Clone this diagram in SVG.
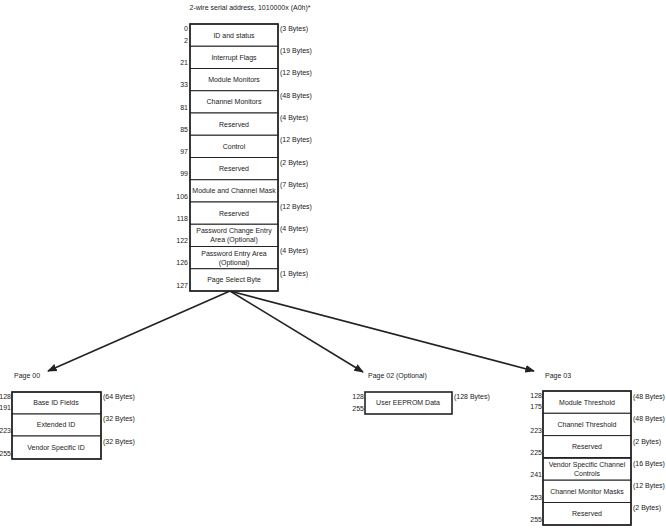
<svg xmlns="http://www.w3.org/2000/svg" width="666" height="528" viewBox="0 0 666 528">
<style>
text{font-family:"Liberation Sans",Arial,sans-serif;font-size:7px;fill:#222}
.c{text-anchor:middle}
.r{text-anchor:end}
.b{fill:#fff;stroke:#222;stroke-width:1}
.o{fill:none;stroke:#222;stroke-width:1.6}
</style>
<defs><marker id="ah" viewBox="0 0 10 10" refX="9" refY="5" markerWidth="6" markerHeight="6" orient="auto"><path d="M0,1L10,5L0,9z" fill="#222"/></marker></defs>
<rect width="666" height="528" fill="#fff"/>
<text x="250" y="10" class="c" font-size="8">2-wire serial address, 1010000x (A0h)*</text>
<g id="connectors" stroke="#222" stroke-width="1.6">
<line x1="230" y1="291" x2="48" y2="371" marker-end="url(#ah)"/>
<line x1="230" y1="291" x2="363" y2="372" marker-end="url(#ah)"/>
<line x1="230" y1="291" x2="534" y2="371" marker-end="url(#ah)"/>
</g>
<g id="lower-memory">
<rect class="b" x="190" y="24" width="88" height="22.25"/><rect class="b" x="190" y="46.25" width="88" height="22.25"/><rect class="b" x="190" y="68.5" width="88" height="22.25"/><rect class="b" x="190" y="90.75" width="88" height="22.25"/><rect class="b" x="190" y="113" width="88" height="22.25"/><rect class="b" x="190" y="135.25" width="88" height="22.25"/><rect class="b" x="190" y="157.5" width="88" height="22.25"/><rect class="b" x="190" y="179.75" width="88" height="22.25"/><rect class="b" x="190" y="202" width="88" height="22.25"/><rect class="b" x="190" y="224.25" width="88" height="22.25"/><rect class="b" x="190" y="246.5" width="88" height="22.25"/><rect class="b" x="190" y="268.75" width="88" height="22.25"/>
<rect class="o" x="190" y="24" width="88" height="267"/>
<text class="c" x="234" y="37.5">ID and status</text>
<text class="c" x="234" y="59.5">Interrupt Flags</text>
<text class="c" x="234" y="82">Module Monitors</text>
<text class="c" x="234" y="104">Channel Monitors</text>
<text class="c" x="234" y="126.5">Reserved</text>
<text class="c" x="234" y="148.5">Control</text>
<text class="c" x="234" y="171">Reserved</text>
<text class="c" x="234" y="193">Module  and Channel Mask</text>
<text class="c" x="234" y="215.5">Reserved</text>
<text class="c" x="234" y="233">Password Change Entry</text><text class="c" x="234" y="242">Area (Optional)</text>
<text class="c" x="234" y="255.5">Password Entry Area</text><text class="c" x="234" y="264.5">(Optional)</text>
<text class="c" x="234" y="282">Page Select Byte</text>
<text class="r" x="188" y="31">0</text><text class="r" x="188" y="43">2</text>
<text class="r" x="188" y="65">21</text><text class="r" x="188" y="87">33</text><text class="r" x="188" y="110">81</text>
<text class="r" x="188" y="132">85</text><text class="r" x="188" y="154">97</text><text class="r" x="188" y="176">99</text>
<text class="r" x="188" y="199">106</text><text class="r" x="188" y="221">118</text><text class="r" x="188" y="243">122</text>
<text class="r" x="188" y="265">126</text><text class="r" x="188" y="288">127</text>
<text x="280" y="31">(3 Bytes)</text><text x="280" y="53">(19 Bytes)</text><text x="280" y="75">(12 Bytes)</text>
<text x="280" y="98">(48 Bytes)</text><text x="280" y="120">(4 Bytes)</text><text x="280" y="142">(12 Bytes)</text>
<text x="280" y="165">(2 Bytes)</text><text x="280" y="187">(7 Bytes)</text><text x="280" y="209">(12 Bytes)</text>
<text x="280" y="231">(4 Bytes)</text><text x="280" y="253">(4 Bytes)</text><text x="280" y="276">(1 Bytes)</text>
</g>
<g id="page00">
<text x="14" y="378">Page 00</text>
<rect class="b" x="12" y="392" width="89" height="22"/><rect class="b" x="12" y="414" width="89" height="22"/><rect class="b" x="12" y="436" width="89" height="23"/>
<rect class="o" x="12" y="392" width="89" height="67"/>
<text class="c" x="56" y="405">Base ID Fields</text><text class="c" x="56" y="427">Extended ID</text><text class="c" x="56" y="450">Vendor Specific ID</text>
<text class="r" x="11" y="399">128</text><text class="r" x="11" y="410">191</text><text class="r" x="11" y="433">223</text><text class="r" x="11" y="456">255</text>
<text x="103" y="399">(64 Bytes)</text><text x="103" y="421">(32 Bytes)</text><text x="103" y="444">(32 Bytes)</text>
</g>
<g id="page02">
<text x="368" y="378">Page 02 (Optional)</text>
<rect class="o" x="365" y="392" width="87" height="22"/>
<text class="c" x="408" y="405">User EEPROM Data</text>
<text class="r" x="364" y="399">128</text><text class="r" x="364" y="411">255</text>
<text x="454" y="399">(128 Bytes)</text>
</g>
<g id="page03">
<text x="545" y="378">Page 03</text>
<rect class="b" x="543" y="391" width="88" height="22.3"/><rect class="b" x="543" y="413.3" width="88" height="22.3"/><rect class="b" x="543" y="435.6" width="88" height="22.3"/><rect class="b" x="543" y="457.9" width="88" height="22.3"/><rect class="b" x="543" y="480.2" width="88" height="22.3"/><rect class="b" x="543" y="502.5" width="88" height="22.5"/>
<rect class="o" x="543" y="391" width="88" height="134"/>
<line x1="543" y1="457.9" x2="631" y2="457.9" stroke="#222" stroke-width="1.6"/>
<text class="c" x="587" y="405">Module Threshold</text><text class="c" x="587" y="427">Channel Threshold</text><text class="c" x="587" y="449">Reserved</text>
<text class="c" x="587" y="467">Vendor Specific Channel</text><text class="c" x="587" y="476">Controls</text>
<text class="c" x="587" y="494">Channel Monitor Masks</text><text class="c" x="587" y="516">Reserved</text>
<text class="r" x="542" y="398">128</text><text class="r" x="542" y="409">175</text><text class="r" x="542" y="433">223</text>
<text class="r" x="542" y="455">225</text><text class="r" x="542" y="477">241</text><text class="r" x="542" y="500">253</text><text class="r" x="542" y="522">255</text>
<text x="633" y="399">(48 Bytes)</text><text x="633" y="421">(48 Bytes)</text><text x="633" y="444">(2 Bytes)</text>
<text x="633" y="466">(16 Bytes)</text><text x="633" y="488">(12 Bytes)</text><text x="633" y="510">(2 Bytes)</text>
</g>
</svg>
